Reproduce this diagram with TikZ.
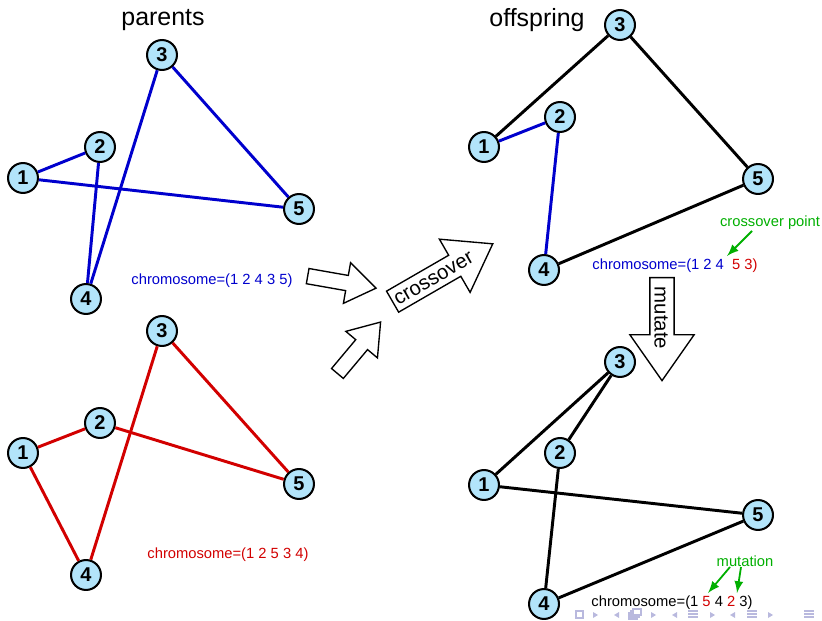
\documentclass[tikz,border=0pt]{standalone}
\usepackage{fontspec}
\setmainfont{Liberation Sans}
\usetikzlibrary{shapes.arrows}
\definecolor{cityfill}{RGB}{178,228,250}
\definecolor{tourblue}{RGB}{0,0,205}
\definecolor{tourred}{RGB}{210,0,0}
\definecolor{notegreen}{RGB}{0,175,0}
\definecolor{navgray}{RGB}{185,185,222}
\begin{document}
\begin{tikzpicture}[x=0.441pt, y=-0.441pt,
        city/.style={circle, draw, line width=0.9pt, fill=cityfill, minimum size=13.2pt, inner sep=0pt, font=\fontsize{8.8}{10}\selectfont\bfseries},
        tour/.style={line width=1.3pt},
        chrom/.style={anchor=west, inner sep=0pt, font=\fontsize{6.5}{8}\selectfont},
        note/.style={inner sep=0pt, text=notegreen, font=\fontsize{6.5}{8}\selectfont},
        blockarrow/.style={single arrow, draw, fill=white, line width=0.6pt, inner sep=0pt, anchor=tail, single arrow tip angle=70, single arrow head indent=0pt},
        navsym/.style={fill=navgray, draw=none}]
        \useasboundingbox (0,0) rectangle (822,621);

        % parent a
        \node[font=\fontsize{11}{13}\selectfont] (ta) at (163,20) {parents};
        \node[city] (a1) at (23,178) {1};
        \node[city] (a2) at (100,147) {2};
        \node[city] (a3) at (162,55) {3};
        \node[city] (a4) at (86,299) {4};
        \node[city] (a5) at (299,209) {5};

        \draw[tour, tourblue] (a1) edge (a2);
        \draw[tour, tourblue] (a2) edge (a4);
        \draw[tour, tourblue] (a4) edge (a3);
        \draw[tour, tourblue] (a3) edge (a5);
        \draw[tour, tourblue] (a5) edge (a1);
        \node[chrom, text=tourblue] (ca) at (131,281) {chromosome=(1 2 4 3 5)};

        % parent b
        \node[city] (b1) at (23,453) {1};
        \node[city] (b2) at (100,423) {2};
        \node[city] (b3) at (162,331) {3};
        \node[city] (b4) at (86,575) {4};
        \node[city] (b5) at (299,484) {5};

        \draw[tour, tourred] (b1) edge (b2);
        \draw[tour, tourred] (b2) edge (b5);
        \draw[tour, tourred] (b5) edge (b3);
        \draw[tour, tourred] (b3) edge (b4);
        \draw[tour, tourred] (b4) edge (b1);
        \node[chrom, text=tourred] (cb) at (147,555) {chromosome=(1 2 5 3 4)};

        % crossover
        \node[blockarrow, rotate=-10, minimum height=30.6pt, inner ysep=3.1pt, single arrow head extend=5.7pt] (xa) at (307,276) {};
        \node[blockarrow, rotate=50, minimum height=29.6pt, inner ysep=3.1pt, single arrow head extend=5.7pt] (xb) at (337,374) {};
        \node[blockarrow, rotate=30, minimum height=51pt, inner ysep=5.05pt, single arrow head extend=8.2pt] (xc) at (392,302) {};
        \node[rotate=30, inner sep=0pt, font=\fontsize{9}{11}\selectfont] (xt) at (434,279) {crossover};

        % child
        \node[font=\fontsize{11}{13}\selectfont] (tc) at (537,20) {offspring};
        \node[city] (c1) at (484,147) {1};
        \node[city] (c2) at (560,117) {2};
        \node[city] (c3) at (620,25) {3};
        \node[city] (c4) at (544,270) {4};
        \node[city] (c5) at (758,179) {5};

        \draw[tour, tourblue] (c1) edge (c2);
        \draw[tour, tourblue] (c2) edge (c4);
        \draw[tour] (c4) edge (c5);
        \draw[tour] (c5) edge (c3);
        \draw[tour] (c3) edge (c1);
        \node[chrom, text=tourblue] (cc) at (592,266) {chromosome=(1 2 4 \ \textcolor{tourred}{5 3)}};
        \node[note] (np) at (770,223) {crossover point};
        \coordinate (np0) at (752,231);
        \coordinate (cp) at (727,256);
        \draw[notegreen, line width=0.8pt, -latex] (np0) -- (cp);

        % mutation
        \node[blockarrow, rotate=-90, minimum height=45.4pt, inner ysep=5.05pt, single arrow head extend=8.8pt] (mu) at (662,277) {};
        \node[rotate=-90, inner sep=0pt, font=\fontsize{9}{11}\selectfont] (mt) at (661,318) {mutate};

        \node[city] (m1) at (484,485) {1};
        \node[city] (m2) at (560,453) {2};
        \node[city] (m3) at (620,362) {3};
        \node[city] (m4) at (544,604) {4};
        \node[city] (m5) at (758,515) {5};

        \draw[tour] (m1) edge (m5);
        \draw[tour] (m5) edge (m4);
        \draw[tour] (m4) edge (m2);
        \draw[tour] (m2) edge (m3);
        \draw[tour] (m3) edge (m1);
        \node[chrom] (cm) at (591,603) {chromosome=(1 \textcolor{tourred}{5} 4 \textcolor{tourred}{2} 3)};
        \node[note] (nm) at (745,561) {mutation};
        \coordinate (m5p) at (708,593);
        \coordinate (m2p) at (737,593);
        \coordinate (nm0) at (730,567);
        \coordinate (nm1) at (741,567);
        \draw[notegreen, line width=0.8pt, -latex] (nm0) -- (m5p);
        \draw[notegreen, line width=0.8pt, -latex] (nm1) -- (m2p);

        % navigation symbols
        \draw[navgray, line width=0.5pt] (576,611) rectangle (583,618);
        \foreach \x in {593,651,710,768}
            \fill[navsym] (\x,612) -- (\x+5,615) -- (\x,618) -- cycle;
        \foreach \x in {619,677,735}
            \fill[navsym] (\x,612) -- (\x-5,615) -- (\x,618) -- cycle;
        \foreach \d in {0,2,4}
            \draw[navgray, line width=0.5pt, fill=white] (629+\d,613-\d) rectangle (637+\d,619-\d);
        \foreach \x in {688,747,804}
            \foreach \y in {611,614,617}
                \draw[navgray, line width=0.7pt] (\x,\y) -- (\x+10,\y);
    \end{tikzpicture}
\end{document}
